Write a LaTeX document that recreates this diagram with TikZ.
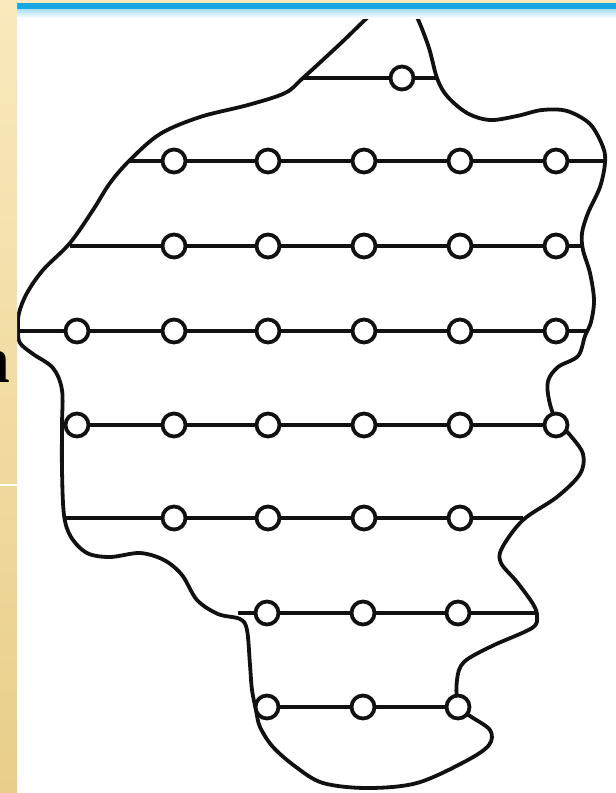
\documentclass[tikz,border=0pt]{standalone}
\usepackage{fontspec}
\newfontfamily\nfont{Liberation Serif}
\definecolor{stripLight}{HTML}{F9E9BC}
\definecolor{stripDark}{HTML}{E9CE8A}
\definecolor{barblue}{HTML}{19A7E1}
\definecolor{barlight}{HTML}{A8DDF3}
\definecolor{ink}{HTML}{111111}
\tikzset{
  ring/.style={circle, draw=ink, fill=white, line width=3.8pt, minimum size=23pt, inner sep=0pt},
  rowline/.style={draw=ink, line width=3.8pt},
  outline/.style={draw=ink, line width=3.8pt, line join=round},
}
\begin{document}
\begin{tikzpicture}[x=1pt,y=-1pt]
\useasboundingbox (0,0) rectangle (616,793);
\fill[white] (0,0) rectangle (616,793);

% outline of the region
\draw[outline] plot[smooth cycle, tension=0.55] coordinates {
 (303,78) (340,44) (378,8) (396,-1) (413,10) (428,45) (437,78) (447,96) (467,113)
 (490,120) (517,116) (542,110) (567,111) (590,124) (603,147) (605,163) (600,187)
 (588,213) (582,233) (583,250) (590,273) (594,300) (591,322) (585,336) (578,356)
 (558,367) (548,381) (549,400) (556,420) (570,435) (583,454) (580,474) (557,497)
 (523,520) (502,548) (501,563) (517,582) (533,604) (537,616) (532,628) (492,646)
 (464,662) (457,680) (458,707) (470,716) (490,730) (489,745) (466,761) (417,783)
 (367,788) (323,783) (296,767) (273,747) (260,727) (256,710) (252,690) (250,665)
 (247,630) (240,619) (218,614) (197,600) (182,575) (164,560) (140,553) (110,557)
 (87,553) (71,537) (64,515) (62,470) (62,425) (62,390) (53,368) (33,354) (20,343)
 (18,330) (19,313) (27,293) (43,270) (70,243) (93,210) (110,183) (130,160)
 (160,134) (200,117) (248,105) (285,93)};

% line end points on the outline
\coordinate (l0) at (303,78);  \coordinate (r0) at (437,78);
\coordinate (l1) at (130,161); \coordinate (r1) at (605,161);
\coordinate (l2) at (70,246);  \coordinate (r2) at (583,246);
\coordinate (l3) at (18,331);  \coordinate (r3) at (587,331);
\coordinate (l5) at (64,518);  \coordinate (r5) at (523,518);
\coordinate (l6) at (238,613); \coordinate (r6) at (537,613);

% circles
\node[ring] (c01) at (402,78) {};
\foreach \i/\x in {1/174,2/268,3/364,4/460,5/556}{
  \node[ring] (c1\i) at (\x,161) {};
  \node[ring] (c2\i) at (\x,246) {};
}
\foreach \i/\x in {0/77,1/174,2/268,3/364,4/460,5/556}{
  \node[ring] (c3\i) at (\x,331) {};
  \node[ring] (c4\i) at (\x,425) {};
}
\foreach \i/\x in {1/174,2/268,3/364,4/460}{
  \node[ring] (c5\i) at (\x,518) {};
}
\foreach \i/\x in {2/267,3/363,4/458}{
  \node[ring] (c6\i) at (\x,613) {};
  \node[ring] (c7\i) at (\x,707) {};
}

% row lines
\draw[rowline] (l0) -- (c01) -- (r0);
\draw[rowline] (l1) -- (c11) -- (c12) -- (c13) -- (c14) -- (c15) -- (r1);
\draw[rowline] (l2) -- (c21) -- (c22) -- (c23) -- (c24) -- (c25) -- (r2);
\draw[rowline] (l3) -- (c30) -- (c31) -- (c32) -- (c33) -- (c34) -- (c35) -- (r3);
\draw[rowline] (c40) -- (c41) -- (c42) -- (c43) -- (c44) -- (c45);
\draw[rowline] (l5) -- (c51) -- (c52) -- (c53) -- (c54) -- (r5);
\draw[rowline] (l6) -- (c62) -- (c63) -- (c64) -- (r6);
\draw[rowline] (c72) -- (c73) -- (c74);

% top blue bar
\fill[barblue] (17,3) rectangle (616,9);
\shade[top color=barlight, bottom color=white] (17,9) rectangle (616,18);

% left beige strip and top band
\shade[top color=stripLight, bottom color=stripDark] (0,0) rectangle (17,793);
\fill[stripLight] (17,0) rectangle (616,3);
\draw[white, line width=1.2pt] (0,485) -- (17,485);

\node[anchor=base east, inner sep=0pt, text=black,
      font=\nfont\bfseries\fontsize{66}{66}\selectfont] (nlabel) at (10,382) {n};
\end{tikzpicture}
\end{document}
